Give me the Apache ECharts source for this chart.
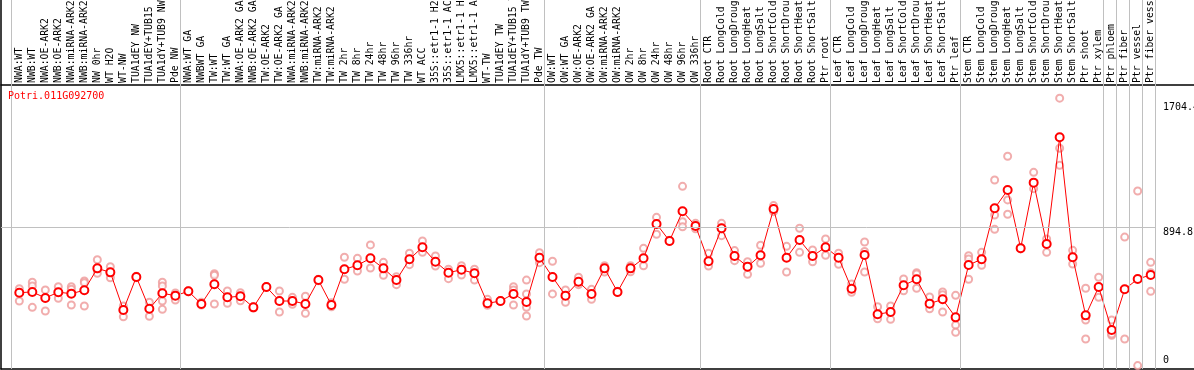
<!DOCTYPE html>
<html>
<head>
<meta charset="utf-8">
<script src="https://cdn.jsdelivr.net/npm/echarts@6/dist/echarts.min.js"></script>
<style>
  html, body { margin: 0; padding: 0; background: #fff; }
  #chart { width: 1194px; height: 370px; }
</style>
</head>
<body>
<div id="chart"></div>
<script>
const geneName = 'Potri.011G092700';

const categories = [
  'NWA:WT', 'NWB:WT', 'NWA:OE-ARK2', 'NWB:OE-ARK2', 'NWA:miRNA-ARK2', 'NWB:miRNA-ARK2', 'NW 0hr', 'WT H2O', 'WT-NW',
  'TUA1dEY NW', 'TUA1dEY+TUB15 NW', 'TUA1dY+TUB9 NW', 'Pde NW',
  'NWA:WT GA', 'NWBWT GA', 'TW:WT', 'TW:WT GA', 'NWA:OE-ARK2 GA', 'NWB:OE-ARK2 GA', 'TW:OE-ARK2', 'TW:OE-ARK2 GA',
  'NWA:miRNA-ARK2 GA', 'NWB:miRNA-ARK2 GA', 'TW:miRNA-ARK2', 'TW:miRNA-ARK2 GA', 'TW 2hr', 'TW 8hr', 'TW 24hr', 'TW 48hr',
  'TW 96hr', 'TW 336hr', 'WT ACC', '35S::etr1-1 H2O', '35S::etr1-1 ACC', 'LMX5::etr1-1 H2O', 'LMX5::etr1-1 ACC', 'WT-TW',
  'TUA1dEY TW', 'TUA1dEY+TUB15 TW', 'TUA1dY+TUB9 TW', 'Pde TW',
  'OW:WT', 'OW:WT GA', 'OW:OE-ARK2', 'OW:OE-ARK2 GA', 'OW:miRNA-ARK2', 'OW:miRNA-ARK2 GA', 'OW 2hr', 'OW 8hr', 'OW 24hr',
  'OW 48hr', 'OW 96hr', 'OW 336hr',
  'Root CTR', 'Root LongCold', 'Root LongDrought', 'Root LongHeat', 'Root LongSalt', 'Root ShortCold', 'Root ShortDrought',
  'Root ShortHeat', 'Root ShortSalt', 'Ptr root',
  'Leaf CTR', 'Leaf LongCold', 'Leaf LongDrought', 'Leaf LongHeat', 'Leaf LongSalt', 'Leaf ShortCold', 'Leaf ShortDrought',
  'Leaf ShortHeat', 'Leaf ShortSalt', 'Ptr leaf',
  'Stem CTR', 'Stem LongCold', 'Stem LongDrought', 'Stem LongHeat', 'Stem LongSalt', 'Stem ShortCold', 'Stem ShortDrought',
  'Stem ShortHeat', 'Stem ShortSalt', 'Ptr shoot',
  'Ptr xylem', 'Ptr phloem', 'Ptr fiber', 'Ptr vessel', 'Ptr fiber vessel'
];

// mean expression per sample
const means = [
  473, 478, 439, 476, 467, 489, 631, 605, 361, 575, 369, 469, 454,
  482, 400, 528, 443, 450, 378, 510, 419, 419, 400, 555, 393, 625, 651, 696, 631, 555, 690, 768, 674, 603, 622, 599, 404, 419, 465, 413, 700,
  575, 454, 544, 465, 631, 478, 631, 696, 919, 809, 1001, 906,
  677, 891, 711, 642, 716, 1016, 700, 815, 711, 768,
  700, 499, 718, 333, 348, 521, 560, 402, 430, 313,
  653, 690, 1021, 1139, 761, 1187, 789, 1481, 703, 326,
  510, 231, 495, 562, 588
];

// individual replicates per sample
const replicates = [
  [499, 473, 419], [541, 517, 378], [491, 439, 354], [512, 476, 437], [512, 495, 393], [549, 538, 387],
  [687, 625, 599], [642, 605, 570], [387, 361, 317], [580, 575, 570], [411, 369, 320], [541, 517, 419, 365],
  [471, 447, 426],
  [485, 482, 479], [411, 400, 393], [596, 586, 400], [484, 443, 404], [473, 450, 421], [382, 378, 374],
  [514, 510, 506], [484, 419, 348], [443, 419, 398], [450, 400, 339], [560, 555, 550], [408, 393, 382],
  [703, 625, 560], [696, 651, 614], [783, 696, 633], [670, 631, 586], [577, 555, 525], [729, 690, 655],
  [809, 768, 735], [711, 674, 646], [625, 603, 564], [648, 622, 588], [625, 599, 555], [430, 404, 391],
  [422, 419, 416], [512, 491, 465, 393], [555, 465, 420, 378, 322], [733, 700, 668],
  [677, 575, 465], [491, 454, 411], [573, 534, 525], [495, 465, 430], [648, 631, 607], [482, 478, 474],
  [648, 631, 609], [761, 696, 648], [962, 919, 852], [813, 809, 805], [1163, 934, 901], [923, 906, 888],
  [729, 677, 646], [923, 891, 843], [746, 711, 681], [674, 642, 592], [781, 716, 664], [1038, 1016, 999],
  [774, 700, 607], [891, 815, 735], [750, 711, 674], [822, 768, 716],
  [729, 700, 657], [530, 499, 476], [802, 740, 607], [382, 333, 304], [387, 348, 300], [562, 521, 486],
  [603, 594, 502], [445, 402, 369], [478, 460, 348], [456, 263, 216],
  [713, 692, 560], [735, 690, 651], [1204, 977, 884], [1358, 1075, 982], [765, 761, 757], [1254, 1187, 1148],
  [822, 789, 735], [1735, 1410, 1300], [748, 703, 659], [502, 296, 173],
  [573, 510, 443], [296, 225, 197, 205], [834, 495, 173], [1133, 0], [670, 603, 482]
];

// first sample index of each group (last = end of chart)
const groupStarts = [0, 13, 41, 53, 63, 73, 84, 85, 86, 87, 88];
const yTickLabels = [894.8, 1704.4];

const font = 'DejaVu Sans Mono';
const xMin = -1.408, xMax = 90.33;
const yMin = -22, yMax = 2372;

const chart = echarts.init(document.getElementById('chart'));

let separators = groupStarts.map(s => ({ xAxis: s - 0.65 }));
let gridLine = [{ coord: [xMin, yTickLabels[0]] }, { coord: [groupStarts[groupStarts.length - 1] - 0.65, yTickLabels[0]] }];
let blackLine = { show: true, onZero: false, lineStyle: { color: '#000', width: 1.5 } };

let option = {
  animation: false,
  title: {
    text: geneName,
    left: 8, top: 91, padding: 0,
    textStyle: { color: '#ff0000', fontFamily: font, fontSize: 10, fontWeight: 'normal' }
  },
  grid: { left: 1, right: 0, top: 0, bottom: 1, outerBoundsMode: 'none', containLabel: false },
  xAxis: [
    {
      type: 'value', position: 'bottom', min: xMin, max: xMax,
      axisLine: blackLine,
      axisTick: { show: false }, axisLabel: { show: false }, splitLine: { show: false }
    },
    {
      type: 'value', position: 'top', offset: -85, min: xMin, max: xMax,
      axisLine: blackLine,
      axisTick: { show: false }, splitLine: { show: false },
      axisLabel: {
        customValues: categories.map((c, i) => i),
        rotate: -90, margin: 2,
        fontFamily: font, fontSize: 9.8, color: '#000',
        formatter: v => categories[v]
      }
    }
  ],
  yAxis: [
    {
      type: 'value', position: 'left', min: yMin, max: yMax,
      axisLine: blackLine,
      axisTick: { show: false }, axisLabel: { show: false }, splitLine: { show: false }
    },
    {
      type: 'value', position: 'right', offset: -39, min: yMin, max: yMax,
      axisLine: { show: false }, axisTick: { show: false }, splitLine: { show: false },
      axisLabel: {
        customValues: yTickLabels, margin: 8, align: 'left', verticalAlign: 'top',
        fontFamily: font, fontSize: 10, color: '#000',
        formatter: v => v.toFixed(1)
      }
    },
    {
      type: 'value', position: 'right', offset: -39, min: yMin, max: yMax,
      axisLine: { show: false }, axisTick: { show: false }, splitLine: { show: false },
      axisLabel: {
        customValues: [0], margin: 8, align: 'left', verticalAlign: 'bottom',
        fontFamily: font, fontSize: 10, color: '#000',
        formatter: v => String(v)
      }
    }
  ],
  series: [
    {
      name: 'replicates', type: 'scatter',
      xAxisIndex: 0, yAxisIndex: 0,
      symbol: 'emptyCircle', symbolSize: 7,
      itemStyle: { color: '#ee9999', borderWidth: 1.3 },
      data: replicates.flatMap((reps, i) => reps.map(v => [i, v])),
      z: 2
    },
    {
      name: 'mean', type: 'line',
      xAxisIndex: 0, yAxisIndex: 0,
      symbol: 'emptyCircle', symbolSize: 8,
      itemStyle: { color: '#ff0000', borderWidth: 1.6 },
      lineStyle: { color: '#ff0000', width: 1 },
      data: means.map((v, i) => [i, v]),
      markLine: {
        silent: true, symbol: 'none',
        label: { show: false },
        lineStyle: { color: '#c0c0c0', width: 1, type: 'solid' },
        data: separators.concat([gridLine])
      },
      z: 3
    }
  ]
};

chart.setOption(option);
</script>
</body>
</html>
